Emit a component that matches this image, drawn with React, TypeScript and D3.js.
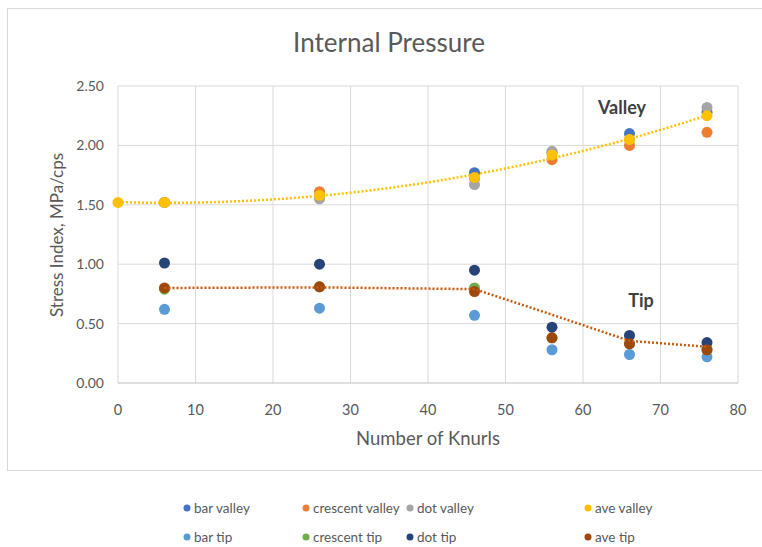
import React, { useRef, useEffect } from "react";
import * as d3 from "d3";

// x positions (number of knurls)
const knurls = [6, 26, 46, 56, 66, 76];

const barValley = [1.52, 1.57, 1.77, 1.94, 2.1, 2.28];
const crescentValley = [1.52, 1.61, 1.72, 1.88, 2.0, 2.11];
const dotValley = [1.52, 1.55, 1.67, 1.95, 2.05, 2.32];
const aveValleyX = [0, 6, 26, 46, 56, 66, 76];
const aveValley = [1.52, 1.52, 1.58, 1.73, 1.92, 2.05, 2.25];

const barTip = [0.62, 0.63, 0.57, 0.28, 0.24, 0.22];
const crescentTip = [0.79, 0.81, 0.8, 0.38, 0.33, 0.28];
const dotTip = [1.01, 1.0, 0.95, 0.47, 0.4, 0.34];
const aveTip = [0.8, 0.81, 0.77, 0.38, 0.33, 0.28];

const xTicks = [0, 10, 20, 30, 40, 50, 60, 70, 80];
const yTicks = [0, 0.5, 1.0, 1.5, 2.0, 2.5];

const seriesList = [
  { name: "bar valley", color: "#4472C4", xs: knurls, ys: barValley },
  { name: "crescent valley", color: "#ED7D31", xs: knurls, ys: crescentValley },
  { name: "dot valley", color: "#A5A5A5", xs: knurls, ys: dotValley },
  { name: "ave valley", color: "#FFC000", xs: aveValleyX, ys: aveValley },
  { name: "bar tip", color: "#5B9BD5", xs: knurls, ys: barTip },
  { name: "crescent tip", color: "#70AD47", xs: knurls, ys: crescentTip },
  { name: "dot tip", color: "#264478", xs: knurls, ys: dotTip },
  { name: "ave tip", color: "#9E480E", xs: knurls, ys: aveTip },
];

// legend column x positions, 4 per row
const legendCols = [187, 306, 410, 588];

const font = "Lato, 'Open Sans', sans-serif";

// 2nd order least squares fit
function quadFit(xs: number[], ys: number[]) {
  const n = xs.length;
  let s = [0, 0, 0, 0, 0];
  let t = [0, 0, 0];
  for (let i = 0; i < n; i++) {
    for (let k = 0; k < 5; k++) s[k] += Math.pow(xs[i], k);
    for (let k = 0; k < 3; k++) t[k] += ys[i] * Math.pow(xs[i], k);
  }
  const m = [
    [s[0], s[1], s[2], t[0]],
    [s[1], s[2], s[3], t[1]],
    [s[2], s[3], s[4], t[2]],
  ];
  for (let i = 0; i < 3; i++) {
    for (let j = i + 1; j < 3; j++) {
      const f = m[j][i] / m[i][i];
      for (let k = i; k < 4; k++) m[j][k] -= f * m[i][k];
    }
  }
  const c = [0, 0, 0];
  for (let i = 2; i >= 0; i--) {
    let v = m[i][3];
    for (let k = i + 1; k < 3; k++) v -= m[i][k] * c[k];
    c[i] = v / m[i][i];
  }
  return (x: number) => c[0] + c[1] * x + c[2] * x * x;
}

const App = () => {
  const ref = useRef<SVGSVGElement>(null);

  useEffect(() => {
    const svg = d3.select(ref.current);
    svg.selectAll("*").remove();

    const x = d3.scaleLinear().domain([0, 80]).range([118, 738]);
    const y = d3.scaleLinear().domain([0, 2.5]).range([383, 86]);

    // chart border
    svg
      .append("rect")
      .attr("x", 7.5)
      .attr("y", 8.5)
      .attr("width", 800)
      .attr("height", 462)
      .attr("fill", "white")
      .attr("stroke", "#D9D9D9");

    svg
      .append("text")
      .attr("x", 389)
      .attr("y", 52)
      .attr("text-anchor", "middle")
      .attr("font-family", font)
      .attr("font-size", 26)
      .attr("fill", "#595959")
      .text("Internal Pressure");

    const g = svg.append("g");

    // grid
    g.selectAll(".hgrid")
      .data(yTicks.slice(1))
      .enter()
      .append("line")
      .attr("x1", x(0))
      .attr("x2", x(80))
      .attr("y1", (d) => y(d))
      .attr("y2", (d) => y(d))
      .attr("stroke", "#D9D9D9");
    g.selectAll(".vgrid")
      .data(xTicks)
      .enter()
      .append("line")
      .attr("x1", (d) => x(d))
      .attr("x2", (d) => x(d))
      .attr("y1", y(2.5))
      .attr("y2", y(0))
      .attr("stroke", "#D9D9D9");
    g.append("line")
      .attr("x1", x(0))
      .attr("x2", x(80))
      .attr("y1", y(0))
      .attr("y2", y(0))
      .attr("stroke", "#BFBFBF");

    // tick labels
    g.selectAll(".xt")
      .data(xTicks)
      .enter()
      .append("text")
      .attr("x", (d) => x(d))
      .attr("y", 415)
      .attr("text-anchor", "middle")
      .attr("font-family", font)
      .attr("font-size", 14.5)
      .attr("fill", "#595959")
      .text((d) => d);
    g.selectAll(".yt")
      .data(yTicks)
      .enter()
      .append("text")
      .attr("x", 104)
      .attr("y", (d) => y(d) + 5)
      .attr("text-anchor", "end")
      .attr("font-family", font)
      .attr("font-size", 14)
      .attr("fill", "#595959")
      .text((d) => d3.format(".2f")(d));

    g.append("text")
      .attr("x", 428)
      .attr("y", 445)
      .attr("text-anchor", "middle")
      .attr("font-family", font)
      .attr("font-size", 18.5)
      .attr("fill", "#595959")
      .text("Number of Knurls");
    g.append("text")
      .attr("transform", "translate(63,235) rotate(-90)")
      .attr("text-anchor", "middle")
      .attr("font-family", font)
      .attr("font-size", 17)
      .attr("fill", "#595959")
      .text("Stress Index, MPa/cps");

    // points
    seriesList.forEach((s) => {
      g.selectAll(null)
        .data(s.ys)
        .enter()
        .append("circle")
        .attr("cx", (d, i) => x(s.xs[i]))
        .attr("cy", (d) => y(d))
        .attr("r", 5.5)
        .attr("fill", s.color);
    });

    // valley trendline: 2nd order polynomial
    const fit = quadFit(aveValleyX, aveValley);
    const fitPts = d3.range(0, 76.5, 1).map((v) => [v, fit(v)]);
    const line = d3
      .line<number[]>()
      .x((d) => x(d[0]))
      .y((d) => y(d[1]));
    g.append("path")
      .attr("d", line(fitPts))
      .attr("fill", "none")
      .attr("stroke", "#FFC000")
      .attr("stroke-width", 2.5)
      .attr("stroke-dasharray", "2,2");

    // tip trendline: 2 period moving average
    const maPts = [[knurls[0], aveTip[0]]].concat(
      knurls.slice(1).map((k, i) => [k, (aveTip[i] + aveTip[i + 1]) / 2])
    );
    g.append("path")
      .attr("d", line(maPts))
      .attr("fill", "none")
      .attr("stroke", "#C55A11")
      .attr("stroke-width", 2.5)
      .attr("stroke-dasharray", "2,2");

    g.append("text")
      .attr("x", 622)
      .attr("y", 114)
      .attr("text-anchor", "middle")
      .attr("font-family", font)
      .attr("font-size", 18)
      .attr("font-weight", "bold")
      .attr("fill", "#404040")
      .text("Valley");
    g.append("text")
      .attr("x", 641)
      .attr("y", 307)
      .attr("text-anchor", "middle")
      .attr("font-family", font)
      .attr("font-size", 18)
      .attr("font-weight", "bold")
      .attr("fill", "#404040")
      .text("Tip");

    // legend
    const leg = svg
      .selectAll(".leg")
      .data(seriesList)
      .enter()
      .append("g")
      .attr(
        "transform",
        (d, i) => `translate(${legendCols[i % 4]},${i < 4 ? 508 : 537})`
      );
    leg.append("circle").attr("r", 3.5).attr("fill", (d) => d.color);
    leg
      .append("text")
      .attr("x", 7)
      .attr("y", 4.5)
      .attr("font-family", font)
      .attr("font-size", 13.5)
      .attr("fill", "#595959")
      .text((d) => d.name);
  }, []);

  return (
    <svg
      ref={ref}
      width={762}
      height={547}
      style={{ position: "absolute", left: 0, top: 0, background: "white" }}
    />
  );
};

export default App;
